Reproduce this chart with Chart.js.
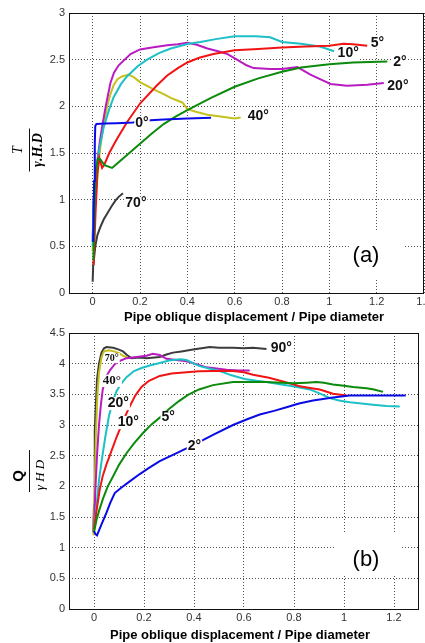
<!DOCTYPE html>
<html>
<head>
<meta charset="utf-8">
<script src="https://cdn.jsdelivr.net/npm/chart.js@4.4.0/dist/chart.umd.min.js"></script>
<style>
  html, body { margin: 0; padding: 0; background: #fff; }
  #wrap { position: relative; width: 425px; height: 643px; overflow: hidden; background: #fff; }
  canvas { position: absolute; left: 0; }
  #tension { top: 0; }
  #uplift { top: 322px; }
</style>
</head>
<body>
<div id="wrap">
  <canvas id="tension" width="425" height="330"></canvas>
  <canvas id="uplift" width="425" height="321"></canvas>
</div>
<script>
// Axis ticks
const tensionXTicks = [0, 0.2, 0.4, 0.6, 0.8, 1, 1.2, 1.4];
const tensionYTicks = [0, 0.5, 1, 1.5, 2, 2.5, 3];
const upliftXTicks = [0, 0.2, 0.4, 0.6, 0.8, 1, 1.2];
const upliftYTicks = [0, 0.5, 1, 1.5, 2, 2.5, 3, 3.5, 4, 4.5];

// (a) axial force  T / (γ.H.D)  vs  displacement / diameter, one curve per oblique angle
const tension0 = [[0.002,0.55],[0.006,1.2],[0.009,1.6],[0.011,1.79],[0.016,1.81],[0.05,1.815],[0.1,1.82],[0.17,1.826],[0.2,1.835],[0.245,1.85],[0.3,1.86],[0.4,1.87],[0.5,1.877]];
const tension2 = [[0.003,0.35],[0.008,0.95],[0.014,1.32],[0.022,1.44],[0.033,1.43],[0.05,1.37],[0.082,1.34],[0.1,1.38],[0.15,1.49],[0.2,1.6],[0.25,1.71],[0.3,1.81],[0.35,1.89],[0.4,1.96],[0.5,2.09],[0.6,2.21],[0.7,2.30],[0.8,2.37],[0.88,2.415],[1.0,2.45],[1.1,2.47],[1.245,2.48]];
const tension5 = [[0.004,0.3],[0.012,0.85],[0.02,1.28],[0.028,1.45],[0.04,1.34],[0.05,1.38],[0.07,1.5],[0.1,1.64],[0.145,1.83],[0.2,2.03],[0.27,2.22],[0.315,2.33],[0.36,2.41],[0.4,2.47],[0.45,2.52],[0.51,2.56],[0.6,2.60],[0.7,2.615],[0.8,2.63],[0.9,2.64],[1.0,2.65],[1.06,2.67],[1.1,2.665],[1.16,2.65]];
const tension10 = [[0.0,0.5],[0.003,0.95],[0.015,1.3],[0.03,1.57],[0.047,1.78],[0.07,1.97],[0.089,2.10],[0.12,2.24],[0.145,2.32],[0.19,2.43],[0.23,2.50],[0.28,2.57],[0.33,2.62],[0.405,2.67],[0.455,2.69],[0.52,2.72],[0.6,2.75],[0.69,2.75],[0.75,2.74],[0.8,2.69],[0.88,2.67],[0.96,2.64],[1.02,2.59]];
const tension20 = [[0.0,0.55],[0.004,1.0],[0.015,1.32],[0.03,1.62],[0.04,1.78],[0.055,2.0],[0.075,2.25],[0.09,2.36],[0.11,2.44],[0.16,2.56],[0.2,2.61],[0.25,2.63],[0.315,2.655],[0.36,2.665],[0.40,2.68],[0.44,2.66],[0.485,2.62],[0.53,2.59],[0.57,2.56],[0.61,2.50],[0.65,2.44],[0.68,2.41],[0.75,2.40],[0.8,2.40],[0.865,2.42],[0.92,2.34],[0.97,2.28],[1.005,2.24],[1.075,2.22],[1.16,2.23],[1.23,2.25]];
const tension40 = [[0.0,0.45],[0.008,0.85],[0.015,1.1],[0.025,1.4],[0.033,1.57],[0.045,1.78],[0.061,2.0],[0.075,2.13],[0.089,2.23],[0.105,2.29],[0.124,2.32],[0.152,2.34],[0.175,2.31],[0.2,2.26],[0.23,2.22],[0.26,2.18],[0.3,2.13],[0.33,2.09],[0.36,2.06],[0.38,2.04],[0.4,1.97],[0.44,1.94],[0.485,1.91],[0.54,1.89],[0.6,1.87],[0.625,1.88]];
const tension70 = [[0.0,0.12],[0.002,0.28],[0.011,0.50],[0.02,0.62],[0.033,0.71],[0.047,0.79],[0.061,0.85],[0.08,0.93],[0.096,0.99],[0.11,1.03],[0.128,1.07]];

// (b) lateral force  Q / (γHD)  vs  displacement / diameter
const uplift2 = [[0.0,1.27],[0.006,1.22],[0.012,1.20],[0.03,1.38],[0.05,1.57],[0.065,1.73],[0.083,1.89],[0.11,1.98],[0.143,2.08],[0.183,2.2],[0.22,2.3],[0.263,2.41],[0.32,2.52],[0.37,2.62],[0.42,2.72],[0.476,2.84],[0.556,3.0],[0.61,3.09],[0.663,3.17],[0.72,3.23],[0.77,3.29],[0.82,3.35],[0.876,3.40],[0.956,3.45],[1.023,3.48],[1.09,3.48],[1.17,3.48],[1.247,3.48]];
const uplift5 = [[0.0,1.25],[0.01,1.45],[0.02,1.6],[0.036,1.8],[0.055,2.0],[0.076,2.16],[0.1,2.35],[0.13,2.54],[0.16,2.7],[0.196,2.87],[0.23,3.01],[0.263,3.12],[0.3,3.26],[0.34,3.39],[0.376,3.49],[0.42,3.58],[0.476,3.65],[0.556,3.70],[0.62,3.70],[0.69,3.70],[0.75,3.69],[0.796,3.68],[0.85,3.69],[0.89,3.70],[0.92,3.69],[0.956,3.66],[1.0,3.64],[1.036,3.62],[1.09,3.60],[1.12,3.58],[1.156,3.54]];
const uplift10 = [[0.0,1.3],[0.01,1.6],[0.023,1.95],[0.035,2.17],[0.05,2.36],[0.063,2.5],[0.09,2.8],[0.12,3.1],[0.14,3.28],[0.165,3.48],[0.19,3.62],[0.22,3.72],[0.263,3.8],[0.31,3.84],[0.37,3.86],[0.42,3.875],[0.476,3.88],[0.52,3.885],[0.556,3.88],[0.6,3.86],[0.636,3.82],[0.7,3.77],[0.756,3.71],[0.8,3.66],[0.823,3.63],[0.87,3.6],[0.903,3.58],[0.956,3.51],[1.01,3.48]];
const uplift20 = [[0.0,1.3],[0.008,1.6],[0.02,2.1],[0.03,2.4],[0.045,2.8],[0.06,3.15],[0.075,3.38],[0.09,3.55],[0.11,3.68],[0.13,3.78],[0.16,3.88],[0.19,3.93],[0.223,3.97],[0.263,4.01],[0.3,4.05],[0.343,4.07],[0.37,4.06],[0.4,4.0],[0.423,3.96],[0.46,3.92],[0.503,3.88],[0.55,3.81],[0.603,3.75],[0.65,3.72],[0.69,3.70],[0.75,3.66],[0.796,3.63],[0.863,3.58],[0.9,3.52],[0.943,3.44],[0.98,3.40],[1.023,3.37],[1.07,3.35],[1.116,3.33],[1.17,3.31],[1.223,3.30]];
const uplift40 = [[0.0,1.3],[0.005,1.9],[0.012,2.5],[0.02,3.0],[0.028,3.35],[0.035,3.58],[0.05,3.8],[0.065,3.9],[0.085,4.0],[0.1,4.04],[0.13,4.09],[0.17,4.11],[0.21,4.13],[0.235,4.16],[0.263,4.14],[0.29,4.08],[0.33,4.06],[0.37,4.04],[0.41,3.99],[0.45,3.94],[0.53,3.90],[0.58,3.89],[0.623,3.89]];
const uplift70 = [[-0.002,1.2],[0.003,2.0],[0.008,2.9],[0.014,3.5],[0.02,3.85],[0.03,4.1],[0.04,4.2],[0.06,4.22],[0.08,4.2],[0.1,4.17],[0.12,4.12],[0.135,4.1]];
const uplift90 = [[-0.003,1.25],[0.0,1.7],[0.003,2.9],[0.008,3.4],[0.012,3.74],[0.02,4.0],[0.03,4.18],[0.04,4.25],[0.05,4.27],[0.077,4.26],[0.1,4.23],[0.116,4.20],[0.135,4.13],[0.15,4.09],[0.183,4.1],[0.21,4.09],[0.263,4.11],[0.29,4.15],[0.316,4.18],[0.35,4.2],[0.396,4.23],[0.43,4.25],[0.463,4.27],[0.5,4.26],[0.556,4.26],[0.6,4.25],[0.636,4.26],[0.69,4.24]];

const COLORS = {
  blue: '#0a0ae6', green: '#0b8a0b', red: '#f01414', cyan: '#1cc0c6',
  magenta: '#b81cc0', yellow: '#c4c01c', black: '#3c3c3c'
};
const SANS = '"Liberation Sans", Arial, sans-serif';
const SERIF = '"Liberation Serif", "Times New Roman", serif';

function series(points, color) {
  return {
    data: points.map(([x, y]) => ({ x, y })),
    borderColor: color,
    borderWidth: 2,
    pointRadius: 0,
    tension: 0,
    fill: false
  };
}

// Angle tags placed in data coordinates next to each curve
const tensionTags = [
  { text: '5°', x: 1.175, y: 2.68 },
  { text: '10°', x: 1.035, y: 2.565 },
  { text: '2°', x: 1.27, y: 2.47 },
  { text: '20°', x: 1.245, y: 2.22 },
  { text: '0°', x: 0.18, y: 1.825 },
  { text: '40°', x: 0.655, y: 1.90 },
  { text: '70°', x: 0.138, y: 0.96 }
];
const upliftTags = [
  { text: '90°', x: 0.707, y: 4.26 },
  { text: '70°', x: 0.043, y: 4.09, font: 'bold 10px ' + SERIF, size: 10 },
  { text: '40°', x: 0.035, y: 3.72, font: 'bold 13px ' + SERIF, size: 13 },
  { text: '20°', x: 0.055, y: 3.35 },
  { text: '10°', x: 0.095, y: 3.04 },
  { text: '5°', x: 0.27, y: 3.12 },
  { text: '2°', x: 0.375, y: 2.66 }
];

const tagPlugin = {
  id: 'angleTags',
  afterDatasetsDraw(chart, args, opts) {
    const { ctx, scales: { x, y } } = chart;
    ctx.save();
    ctx.textAlign = 'left';
    ctx.textBaseline = 'middle';
    for (const t of opts.items) {
      const size = t.size || 14;
      ctx.font = t.font || ('bold 14px ' + SANS);
      const px = x.getPixelForValue(t.x);
      const py = y.getPixelForValue(t.y);
      const w = ctx.measureText(t.text).width;
      const h = size * 0.8;
      ctx.fillStyle = '#fff';
      ctx.fillRect(px - 1, py - h / 2 - 1, w + 2, h + 2);
      ctx.fillStyle = '#111';
      ctx.fillText(t.text, px, py);
    }
    ctx.restore();
  }
};

// Box, panel letter, axis titles
const framePlugin = {
  id: 'frame',
  beforeDatasetsDraw(chart, args, opts) {
    const { ctx } = chart;
    const p = opts.panel;
    ctx.save();
    ctx.fillStyle = '#fff';
    ctx.fillRect(p.box[0], p.box[1], p.box[2], p.box[3]);
    ctx.fillStyle = '#000';
    ctx.font = '22px ' + SANS;
    ctx.textAlign = 'center';
    ctx.textBaseline = 'middle';
    ctx.fillText(p.text, p.x, p.y);
    ctx.restore();
  },
  afterDraw(chart, args, opts) {
    const { ctx, chartArea: a } = chart;
    ctx.save();
    ctx.strokeStyle = '#111';
    ctx.lineWidth = 1;
    ctx.strokeRect(Math.round(a.left) + 0.5, Math.round(a.top) + 0.5,
                   Math.round(a.right - a.left) - 1, Math.round(a.bottom - a.top));
    // x title
    ctx.fillStyle = '#000';
    ctx.font = 'bold 13px ' + SANS;
    ctx.textAlign = 'center';
    ctx.textBaseline = 'alphabetic';
    ctx.fillText('Pipe oblique displacement / Pipe diameter', opts.xTitle.x, opts.xTitle.y);
    // y title as a rotated fraction
    const f = opts.yTitle;
    ctx.translate(f.cx, f.cy);
    ctx.rotate(-Math.PI / 2);
    ctx.beginPath();
    ctx.moveTo(-f.len / 2, 0);
    ctx.lineTo(f.len / 2, 0);
    ctx.stroke();
    ctx.font = f.numFont;
    ctx.fillText(f.num, f.numShift, f.numBase);
    ctx.font = f.denFont;
    ctx.fillText(f.den, f.denShift, f.denBase);
    ctx.restore();
  }
};

function scales(xMin, xMax, xTicks, yMax, yTicks, xHeight) {
  const tickFont = { family: SANS, size: 11 };
  const grid = { color: 'rgba(50,50,50,0.85)', lineWidth: 1, drawTicks: false };
  const border = { display: false, dash: [1, 2] };
  return {
    x: {
      type: 'linear', min: xMin, max: xMax,
      afterBuildTicks: s => { s.ticks = xTicks.map(v => ({ value: v })); },
      afterFit: s => { s.height = xHeight; s.paddingLeft = 0; s.paddingRight = 0; },
      grid, border,
      ticks: { padding: 2, color: '#333', font: tickFont, autoSkip: false, maxRotation: 0, callback: v => String(v) }
    },
    y: {
      type: 'linear', min: 0, max: yMax,
      afterBuildTicks: s => { s.ticks = yTicks.map(v => ({ value: v })); },
      afterFit: s => { s.width = 69; },
      grid, border,
      ticks: { padding: 4, color: '#333', font: tickFont, autoSkip: false, callback: v => String(v) }
    }
  };
}

new Chart(document.getElementById('tension'), {
  type: 'line',
  data: {
    datasets: [
      series(tension0, COLORS.blue),
      series(tension2, COLORS.green),
      series(tension5, COLORS.red),
      series(tension10, COLORS.cyan),
      series(tension20, COLORS.magenta),
      series(tension40, COLORS.yellow),
      series(tension70, COLORS.black)
    ]
  },
  options: {
    responsive: false,
    animation: false,
    layout: { padding: { left: 0, right: 1, top: 13, bottom: 0 } },
    scales: scales(-0.1, 1.4, tensionXTicks, 3, tensionYTicks, 37),
    plugins: {
      legend: { display: false },
      tooltip: { enabled: false },
      angleTags: { items: tensionTags },
      frame: {
        panel: { text: '(a)', x: 366, y: 256, box: [349, 230, 54, 49] },
        xTitle: { x: 254, y: 321 },
        yTitle: {
          cx: 29.5, cy: 150, len: 43,
          num: 'T', numFont: 'italic 14px ' + SERIF, numShift: 0, numBase: -8,
          den: 'γ.H.D', denFont: 'bold italic 14px ' + SERIF, denShift: 0, denBase: 12
        }
      }
    }
  },
  plugins: [tagPlugin, framePlugin]
});

new Chart(document.getElementById('uplift'), {
  type: 'line',
  data: {
    datasets: [
      series(uplift2, COLORS.blue),
      series(uplift5, COLORS.green),
      series(uplift10, COLORS.red),
      series(uplift20, COLORS.cyan),
      series(uplift40, COLORS.magenta),
      series(uplift70, COLORS.yellow),
      series(uplift90, COLORS.black)
    ]
  },
  options: {
    responsive: false,
    animation: false,
    layout: { padding: { left: 0, right: 6, top: 11, bottom: 0 } },
    scales: scales(-0.1, 1.3, upliftXTicks, 4.5, upliftYTicks, 34),
    plugins: {
      legend: { display: false },
      tooltip: { enabled: false },
      angleTags: { items: upliftTags },
      frame: {
        panel: { text: '(b)', x: 366, y: 238, box: [336, 212, 64, 40] },
        xTitle: { x: 240, y: 316.5 },
        yTitle: {
          cx: 29.5, cy: 149, len: 42,
          num: 'Q', numFont: 'bold 15px ' + SANS, numShift: -5, numBase: -7,
          den: 'γ H D', denFont: 'italic 13px ' + SERIF, denShift: -4, denBase: 14.5
        }
      }
    }
  },
  plugins: [tagPlugin, framePlugin]
});
</script>
</body>
</html>
